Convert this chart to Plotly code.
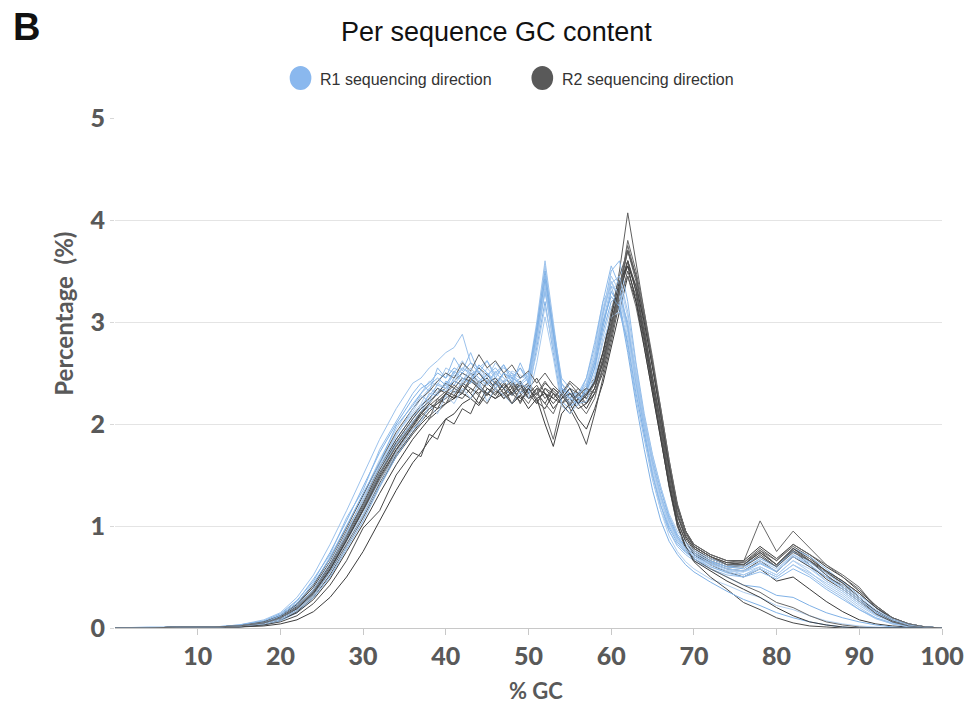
import plotly.graph_objects as go

# % GC positions shared by all sample profiles
gc_x = [0, 4, 8, 12, 15, 18, 20, 22, 24, 26, 28, 30, 32, 34, 36,
        37, 38, 39, 40, 41, 42, 43, 44, 45, 46, 47, 48, 49, 50,
        51, 52, 53, 54, 55, 56, 57, 58, 59, 60,
        61, 62, 63, 64, 65, 66, 67, 68, 69, 70,
        72, 74, 76, 78, 80, 82, 84, 86, 88, 90, 92, 94, 96, 98, 100]

# R1 sequencing direction samples (percentage of reads)
r1_s1 = [0,0,0.01,0.01,0.02,0.05,0.1,0.2,0.38,0.62,0.9,1.22,1.55,1.85,2.08,
         2.15,2.3,2.28,2.42,2.38,2.5,2.44,2.36,2.5,2.42,2.35,2.45,2.3,2.42,
         2.9,3.4,2.85,2.3,2.22,2.3,2.45,2.8,3.2,3.35,
         3.1,2.8,2.35,1.9,1.55,1.25,1.0,0.86,0.76,0.7,
         0.62,0.56,0.55,0.63,0.55,0.7,0.6,0.46,0.36,0.24,0.13,0.06,0.02,0.01,0]
r1_s2 = [0,0,0.01,0.01,0.02,0.06,0.12,0.24,0.42,0.7,1.0,1.3,1.65,1.95,2.2,
         2.3,2.42,2.38,2.55,2.5,2.62,2.48,2.55,2.45,2.6,2.5,2.42,2.55,2.45,
         2.95,3.55,2.95,2.35,2.28,2.2,2.35,2.6,3.05,3.45,
         3.3,2.9,2.4,2.0,1.6,1.3,1.05,0.9,0.78,0.72,
         0.63,0.58,0.52,0.6,0.52,0.66,0.55,0.42,0.32,0.2,0.1,0.04,0.02,0.01,0]
r1_s3 = [0,0,0,0.01,0.01,0.03,0.07,0.15,0.3,0.5,0.78,1.05,1.38,1.68,1.92,
         2.05,2.15,2.2,2.28,2.35,2.3,2.42,2.38,2.3,2.4,2.35,2.28,2.38,2.3,
         2.75,3.2,2.7,2.22,2.15,2.25,2.3,2.55,2.9,3.2,
         3.25,3.0,2.5,2.05,1.65,1.35,1.08,0.9,0.8,0.72,
         0.65,0.6,0.58,0.68,0.6,0.75,0.65,0.52,0.4,0.28,0.16,0.08,0.03,0.01,0]
r1_s4 = [0,0.01,0.01,0.01,0.03,0.08,0.15,0.3,0.52,0.82,1.15,1.5,1.85,2.15,2.4,
         2.45,2.55,2.62,2.7,2.75,2.88,2.6,2.55,2.62,2.48,2.55,2.5,2.45,2.5,
         3.0,3.6,3.0,2.4,2.3,2.3,2.4,2.7,3.1,3.4,
         3.2,2.75,2.25,1.85,1.45,1.15,0.95,0.8,0.72,0.66,
         0.58,0.52,0.5,0.58,0.5,0.62,0.52,0.4,0.3,0.18,0.09,0.04,0.01,0,0]
r1_s5 = [0,0,0.01,0.01,0.02,0.05,0.1,0.22,0.4,0.65,0.95,1.25,1.6,1.9,2.1,
         2.2,2.35,2.3,2.4,2.48,2.4,2.52,2.45,2.38,2.45,2.42,2.5,2.35,2.38,
         2.85,3.3,2.8,2.28,2.2,2.18,2.3,2.5,2.95,3.3,
         3.4,3.05,2.45,1.95,1.5,1.15,0.9,0.75,0.65,0.58,
         0.48,0.42,0.35,0.3,0.22,0.18,0.12,0.07,0.04,0.02,0.01,0,0,0,0]
r1_s6 = [0,0,0.01,0.01,0.02,0.06,0.11,0.22,0.36,0.58,0.88,1.18,1.5,1.8,2.02,
         2.12,2.25,2.35,2.32,2.45,2.55,2.5,2.42,2.48,2.55,2.45,2.38,2.45,2.5,
         2.9,3.45,2.9,2.4,2.25,2.28,2.38,2.65,3.1,3.5,
         3.6,3.2,2.6,2.1,1.7,1.38,1.1,0.92,0.82,0.74,
         0.66,0.6,0.62,0.7,0.6,0.78,0.7,0.58,0.45,0.32,0.2,0.1,0.04,0.01,0]
r1_s7 = [0,0,0,0.01,0.02,0.04,0.09,0.18,0.34,0.56,0.85,1.12,1.45,1.75,2.0,
         2.1,2.2,2.32,2.38,2.3,2.42,2.5,2.35,2.42,2.35,2.5,2.42,2.3,2.35,
         2.7,3.15,2.75,2.3,2.25,2.2,2.28,2.45,2.85,3.15,
         3.2,2.95,2.5,2.05,1.62,1.3,1.05,0.88,0.78,0.7,
         0.6,0.55,0.52,0.58,0.5,0.62,0.54,0.44,0.34,0.22,0.12,0.06,0.02,0.01,0]
r1_s8 = [0,0,0.01,0.01,0.03,0.07,0.14,0.27,0.46,0.74,1.05,1.38,1.72,2.0,2.25,
         2.35,2.4,2.5,2.45,2.55,2.5,2.6,2.5,2.42,2.5,2.58,2.45,2.4,2.48,
         2.95,3.5,2.9,2.35,2.3,2.25,2.32,2.55,2.95,3.3,
         3.15,2.8,2.3,1.9,1.5,1.2,0.98,0.84,0.75,0.68,
         0.58,0.5,0.42,0.4,0.32,0.3,0.22,0.15,0.1,0.06,0.03,0.01,0,0,0]
r1_s9 = [0,0,0,0.01,0.02,0.05,0.1,0.19,0.35,0.6,0.9,1.2,1.52,1.82,2.05,
         2.18,2.28,2.38,2.35,2.42,2.38,2.45,2.52,2.42,2.35,2.42,2.5,2.4,2.35,
         2.8,3.3,2.85,2.32,2.18,2.22,2.35,2.6,3.0,3.35,
         3.3,2.95,2.45,2.0,1.6,1.28,1.04,0.88,0.78,0.72,
         0.64,0.58,0.56,0.64,0.56,0.72,0.62,0.5,0.38,0.26,0.15,0.07,0.03,0.01,0]
r1_s10 = [0,0,0.01,0.01,0.02,0.05,0.11,0.21,0.38,0.64,0.94,1.25,1.6,1.9,2.12,
          2.25,2.35,2.42,2.5,2.42,2.55,2.48,2.4,2.55,2.45,2.4,2.52,2.48,2.42,
          2.85,3.4,2.8,2.3,2.25,2.3,2.4,2.7,3.15,3.4,
          3.25,2.85,2.35,1.95,1.55,1.25,1.02,0.86,0.76,0.7,
          0.62,0.56,0.55,0.6,0.52,0.66,0.58,0.46,0.36,0.24,0.14,0.07,0.03,0.01,0]
r1_s11 = [0,0,0.01,0.01,0.02,0.06,0.13,0.26,0.48,0.72,1.08,1.35,1.75,2.02,2.3,
          2.4,2.32,2.55,2.45,2.65,2.52,2.7,2.5,2.62,2.45,2.58,2.4,2.6,2.42,
          2.9,3.3,2.95,2.45,2.35,2.25,2.45,2.75,3.2,3.55,
          3.35,2.95,2.4,1.95,1.5,1.2,0.95,0.82,0.74,0.68,
          0.6,0.54,0.5,0.55,0.48,0.58,0.5,0.38,0.28,0.18,0.1,0.05,0.02,0.01,0]
r1_s12 = [0,0,0,0.01,0.02,0.04,0.08,0.17,0.32,0.54,0.8,1.1,1.4,1.72,1.95,
          2.02,2.18,2.1,2.28,2.2,2.35,2.25,2.4,2.22,2.35,2.28,2.2,2.32,2.25,
          2.6,3.05,2.65,2.18,2.1,2.2,2.22,2.45,2.8,3.05,
          3.1,2.85,2.45,2.05,1.68,1.38,1.12,0.95,0.84,0.76,
          0.68,0.62,0.6,0.66,0.58,0.72,0.64,0.54,0.42,0.3,0.18,0.09,0.04,0.01,0]
r1_s13 = [0,0,0.01,0.01,0.02,0.05,0.12,0.24,0.44,0.68,1.0,1.32,1.62,1.98,2.18,
          2.3,2.38,2.45,2.38,2.52,2.45,2.4,2.58,2.5,2.38,2.5,2.45,2.55,2.4,
          2.88,3.42,2.88,2.35,2.25,2.2,2.35,2.6,3.0,3.25,
          3.15,2.7,2.2,1.75,1.35,1.05,0.85,0.72,0.62,0.55,
          0.45,0.36,0.28,0.22,0.15,0.1,0.06,0.03,0.01,0,0,0,0,0,0]
r1_s14 = [0,0,0.01,0.01,0.02,0.05,0.1,0.2,0.37,0.6,0.92,1.28,1.58,1.88,2.15,
          2.28,2.22,2.4,2.35,2.5,2.42,2.55,2.45,2.38,2.52,2.4,2.48,2.38,2.45,
          2.82,3.35,2.78,2.3,2.2,2.28,2.38,2.62,3.08,3.38,
          3.45,3.1,2.55,2.05,1.62,1.3,1.05,0.88,0.78,0.7,
          0.63,0.58,0.56,0.64,0.55,0.7,0.62,0.5,0.4,0.28,0.16,0.08,0.03,0.01,0]

# R2 sequencing direction samples
r2_s1 = [0,0,0.01,0.01,0.02,0.04,0.08,0.16,0.3,0.52,0.8,1.08,1.4,1.68,1.9,
         2.0,2.08,2.15,2.2,2.28,2.25,2.35,2.3,2.4,2.32,2.28,2.35,2.25,2.3,
         2.2,2.35,2.25,2.2,2.3,2.25,2.2,2.3,2.5,2.85,
         3.25,3.6,3.3,2.9,2.45,2.0,1.5,1.1,0.88,0.76,
         0.66,0.6,0.6,0.72,0.6,0.76,0.62,0.48,0.38,0.26,0.14,0.06,0.02,0.01,0]
r2_s2 = [0,0,0.01,0.01,0.02,0.05,0.1,0.2,0.36,0.6,0.9,1.2,1.52,1.8,2.02,
         2.12,2.2,2.3,2.35,2.42,2.5,2.45,2.55,2.48,2.4,2.5,2.35,2.42,2.3,
         2.38,2.25,2.35,2.28,2.4,2.3,2.35,2.45,2.7,3.05,
         3.5,4.07,3.6,3.1,2.6,2.1,1.6,1.2,0.95,0.8,
         0.7,0.62,0.64,0.78,0.66,0.8,0.7,0.55,0.44,0.3,0.16,0.07,0.03,0.01,0]
r2_s3 = [0,0,0,0.01,0.01,0.02,0.04,0.08,0.16,0.3,0.5,0.75,1.05,1.35,1.62,
         1.72,1.84,1.95,2.05,2.1,2.2,2.25,2.18,2.3,2.25,2.35,2.2,2.28,2.15,
         2.25,2.0,1.78,2.1,2.2,2.05,1.95,2.15,2.4,2.75,
         3.1,3.45,3.2,2.85,2.4,1.95,1.45,1.05,0.85,0.72,
         0.62,0.55,0.5,0.58,0.46,0.5,0.38,0.26,0.16,0.08,0.04,0.02,0.01,0,0]
r2_s4 = [0,0,0.01,0.01,0.02,0.05,0.09,0.18,0.33,0.56,0.85,1.15,1.45,1.72,1.95,
         2.05,2.15,2.2,2.3,2.25,2.38,2.3,2.42,2.35,2.3,2.38,2.28,2.35,2.4,
         2.3,2.42,2.3,2.2,2.25,2.35,2.25,2.35,2.6,2.95,
         3.35,3.75,3.45,3.0,2.55,2.05,1.55,1.15,0.92,0.8,
         0.7,0.64,0.65,1.05,0.75,0.95,0.78,0.62,0.52,0.4,0.2,0.08,0.03,0.01,0]
r2_s5 = [0,0,0.01,0.01,0.02,0.04,0.09,0.17,0.32,0.55,0.82,1.1,1.42,1.7,1.92,
         2.02,2.12,2.2,2.25,2.32,2.3,2.42,2.35,2.28,2.4,2.3,2.38,2.2,2.35,
         2.45,2.3,2.25,2.35,2.15,2.0,1.8,2.1,2.45,2.8,
         3.2,3.5,3.25,2.8,2.35,1.9,1.45,1.05,0.85,0.74,
         0.64,0.58,0.56,0.66,0.55,0.7,0.6,0.5,0.42,0.3,0.17,0.08,0.03,0.01,0]
r2_s6 = [0,0,0.01,0.01,0.02,0.06,0.12,0.23,0.4,0.65,0.95,1.25,1.58,1.85,2.08,
         2.18,2.25,2.35,2.3,2.42,2.38,2.5,2.4,2.45,2.35,2.42,2.3,2.38,2.25,
         2.35,2.3,2.2,2.3,2.25,2.15,2.2,2.35,2.65,3.0,
         3.35,3.6,3.3,2.85,2.35,1.85,1.38,1.0,0.78,0.65,
         0.5,0.38,0.25,0.18,0.1,0.05,0.02,0.01,0,0,0,0,0,0,0]
r2_s7 = [0,0,0.01,0.01,0.02,0.05,0.1,0.19,0.35,0.58,0.88,1.18,1.5,1.78,2.0,
         2.1,2.18,2.25,2.32,2.28,2.4,2.35,2.28,2.42,2.35,2.25,2.32,2.42,2.3,
         2.2,2.35,2.3,2.25,2.35,2.3,2.25,2.4,2.7,3.1,
         3.45,3.7,3.4,2.95,2.45,1.95,1.5,1.1,0.9,0.78,
         0.68,0.62,0.6,0.7,0.6,0.74,0.66,0.56,0.46,0.34,0.2,0.1,0.04,0.01,0]
r2_s8 = [0,0,0.01,0.01,0.02,0.04,0.08,0.15,0.28,0.48,0.75,1.02,1.32,1.6,1.85,
         1.95,2.05,2.12,2.2,2.25,2.3,2.25,2.35,2.3,2.25,2.3,2.2,2.28,2.35,
         2.22,2.15,2.3,2.2,2.1,2.25,2.15,2.3,2.55,2.9,
         3.3,3.55,3.35,3.0,2.55,2.1,1.6,1.2,0.95,0.82,
         0.72,0.66,0.66,0.8,0.68,0.82,0.72,0.6,0.5,0.36,0.22,0.1,0.04,0.01,0]
r2_s9 = [0,0,0.01,0.01,0.02,0.05,0.1,0.2,0.35,0.58,0.86,1.15,1.46,1.74,1.97,
         2.08,2.15,2.22,2.3,2.38,2.32,2.45,2.38,2.3,2.35,2.28,2.4,2.3,2.2,
         2.35,2.1,1.85,2.2,2.3,2.2,2.1,2.25,2.55,2.9,
         3.25,3.45,3.15,2.75,2.3,1.85,1.4,1.0,0.8,0.68,
         0.58,0.5,0.42,0.35,0.25,0.2,0.12,0.06,0.03,0.01,0,0,0,0,0]
r2_s10 = [0,0,0.01,0.01,0.02,0.05,0.11,0.21,0.37,0.62,0.92,1.22,1.55,1.82,2.05,
          2.15,2.22,2.3,2.4,2.35,2.45,2.42,2.5,2.4,2.45,2.35,2.42,2.3,2.38,
          2.28,2.4,2.32,2.25,2.3,2.2,2.3,2.4,2.6,2.95,
          3.3,3.6,3.35,2.9,2.45,2.0,1.55,1.12,0.9,0.78,
          0.68,0.62,0.62,0.74,0.62,0.78,0.66,0.54,0.44,0.3,0.16,0.07,0.03,0.01,0]
r2_s11 = [0,0,0,0.01,0.01,0.03,0.06,0.12,0.24,0.42,0.66,0.98,1.15,1.5,1.72,
          1.68,1.9,1.85,2.05,2.0,2.15,2.1,2.28,2.2,2.35,2.25,2.3,2.4,2.25,
          2.3,2.2,2.35,2.28,2.18,2.3,2.2,2.35,2.6,2.95,
          3.35,3.7,3.45,3.05,2.6,2.1,1.6,1.18,0.94,0.8,
          0.7,0.64,0.62,0.74,0.62,0.78,0.68,0.56,0.46,0.34,0.2,0.09,0.04,0.01,0]
r2_s12 = [0,0,0.01,0.01,0.02,0.06,0.12,0.24,0.42,0.68,0.98,1.3,1.62,1.92,2.15,
          2.25,2.32,2.42,2.5,2.45,2.6,2.52,2.68,2.55,2.62,2.5,2.58,2.45,2.52,
          2.4,2.5,2.38,2.3,2.42,2.35,2.28,2.4,2.62,2.95,
          3.3,3.7,3.45,3.05,2.6,2.15,1.65,1.2,0.95,0.8,
          0.7,0.62,0.62,0.76,0.62,0.76,0.66,0.52,0.4,0.28,0.14,0.06,0.02,0.01,0]
r2_s13 = [0,0,0.01,0.01,0.02,0.05,0.1,0.19,0.34,0.57,0.86,1.16,1.48,1.75,1.98,
          2.1,2.2,2.15,2.3,2.25,2.38,2.3,2.2,2.35,2.28,2.4,2.3,2.22,2.35,
          2.25,2.3,2.15,2.25,2.35,2.2,2.28,2.42,2.7,3.05,
          3.4,3.55,3.2,2.75,2.3,1.85,1.4,1.02,0.8,0.66,
          0.56,0.46,0.38,0.3,0.2,0.12,0.06,0.03,0.01,0,0,0,0,0,0]
r2_s14 = [0,0,0.01,0.01,0.02,0.05,0.1,0.2,0.36,0.6,0.9,1.2,1.52,1.78,2.0,
          2.12,2.05,2.25,2.2,2.35,2.3,2.45,2.35,2.28,2.42,2.3,2.2,2.35,2.25,
          2.3,2.2,2.1,2.3,2.2,2.28,2.35,2.3,2.55,2.9,
          3.3,3.8,3.5,3.1,2.65,2.15,1.65,1.22,0.95,0.82,
          0.72,0.66,0.64,0.76,0.66,0.82,0.72,0.62,0.5,0.38,0.22,0.1,0.04,0.01,0]

r1_series = [r1_s1, r1_s2, r1_s3, r1_s4, r1_s5, r1_s6, r1_s7,
             r1_s8, r1_s9, r1_s10, r1_s11, r1_s12, r1_s13, r1_s14]
r2_series = [r2_s1, r2_s2, r2_s3, r2_s4, r2_s5, r2_s6, r2_s7,
             r2_s8, r2_s9, r2_s10, r2_s11, r2_s12, r2_s13, r2_s14]

x_ticks = [10, 20, 30, 40, 50, 60, 70, 80, 90, 100]
y_ticks = [0, 1, 2, 3, 4, 5]

r1_colors = ["#8fbbea", "#a7c9ee", "#7fb1e6", "#9cc2ec", "#b3d0f0"]
r2_colors = ["#4a4a4a", "#5e5e5e", "#3c3c3c", "#686868", "#525252"]

fig = go.Figure()
for i in range(len(r1_series)):
    assert len(r1_series[i]) == len(gc_x), ("r1", i, len(r1_series[i]))
    assert len(r2_series[i]) == len(gc_x), ("r2", i, len(r2_series[i]))
    fig.add_trace(go.Scatter(x=gc_x, y=r1_series[i], mode="lines",
                             line=dict(color=r1_colors[i % 5], width=1),
                             showlegend=False, hoverinfo="skip"))
    fig.add_trace(go.Scatter(x=gc_x, y=r2_series[i], mode="lines",
                             line=dict(color=r2_colors[i % 5], width=1),
                             showlegend=False, hoverinfo="skip"))

W, H = 976, 704
L, R, T, B = 115, 23, 118, 76
pw, ph = W - L - R, H - T - B

def px(xp):
    return (xp - L) / pw

def py(yp):
    return (H - B - yp) / ph

shapes = []
for cx, col in [(303, "#8ab8ee"), (548, "#595959")]:
    shapes.append(dict(type="circle", xref="paper", yref="paper",
                       x0=px(cx - 11), x1=px(cx + 11), y0=py(78 + 12), y1=py(78 - 12),
                       fillcolor=col, line=dict(width=0)))

tick_font = dict(family="Lato, Carlito, sans-serif", size=25, color="#595959", weight=900)

annotations = [
    dict(text="Per sequence GC content", x=px(502), y=py(32), xref="paper", yref="paper",
         showarrow=False, xanchor="center", yanchor="middle",
         font=dict(family="Liberation Sans, Arial", size=27, color="#111111")),
    dict(text="<b>B</b>", x=px(25), y=py(27), xref="paper", yref="paper",
         showarrow=False, xanchor="center", yanchor="middle",
         font=dict(family="Liberation Sans, Arial", size=38, color="#111111")),
    dict(text="R1 sequencing direction", x=px(321), y=py(79), xref="paper", yref="paper",
         showarrow=False, xanchor="left", yanchor="middle",
         font=dict(family="Liberation Sans, Arial", size=16, color="#333333")),
    dict(text="R2 sequencing direction", x=px(566), y=py(79), xref="paper", yref="paper",
         showarrow=False, xanchor="left", yanchor="middle",
         font=dict(family="Liberation Sans, Arial", size=16, color="#333333")),
    dict(text="Percentage  (%)", x=px(62), y=py(314), xref="paper", yref="paper",
         showarrow=False, xanchor="center", yanchor="middle", textangle=-90,
         font=dict(family="Lato, Carlito, sans-serif", size=24, color="#595959", weight=700)),
    dict(text="% GC", x=px(542), y=py(690), xref="paper", yref="paper",
         showarrow=False, xanchor="center", yanchor="middle",
         font=dict(family="Lato, Carlito, sans-serif", size=22, color="#595959", weight=700)),
]

fig.update_layout(
    width=W, height=H,
    margin=dict(l=L, r=R, t=T, b=B, pad=0),
    paper_bgcolor="white", plot_bgcolor="white",
    showlegend=False,
    shapes=shapes, annotations=annotations,
    xaxis=dict(range=[0, 100], tickvals=x_ticks, ticktext=[str(v) for v in x_ticks],
               showgrid=False, zeroline=False, showline=True, linecolor="#c8c8c8", linewidth=1,
               ticks="outside", ticklen=6, tickcolor="#c8c8c8",
               tickfont=tick_font),
    yaxis=dict(range=[0, 5], tickvals=y_ticks, showgrid=True, gridcolor="#e4e4e4", gridwidth=1,
               zeroline=False, showline=False,
               ticks="outside", ticklen=4, tickcolor="#d8d8d8",
               tickfont=tick_font),
)

fig.write_html("out.html")
